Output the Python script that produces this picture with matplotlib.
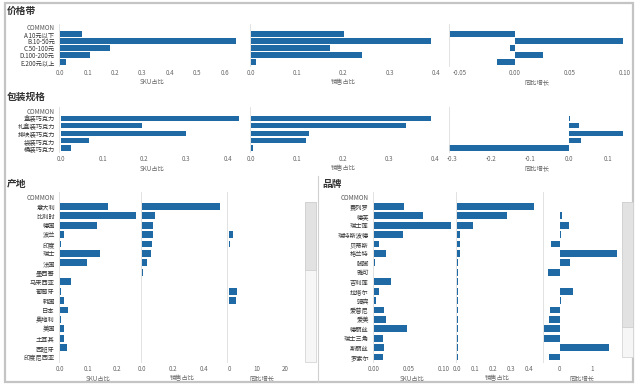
import matplotlib
matplotlib.use("Agg")
import matplotlib.pyplot as plt
from matplotlib.patches import Rectangle

plt.rcParams['font.family'] = ['Noto Sans CJK SC', 'DejaVu Sans']

# ---------------- data ----------------
price_cats = ['A.10元以下', 'B.10-50元', 'C.50-100元', 'D.100-200元', 'E.200元以上']
price_sku = [0.08, 0.64, 0.18, 0.11, 0.02]
price_sales = [0.20, 0.39, 0.17, 0.24, 0.01]
price_yoy = [-0.059, 0.098, -0.005, 0.025, -0.016]

pack_cats = ['盒装巧克力', '礼盒装巧克力', '排块装巧克力', '袋装巧克力', '桶装巧克力']
pack_sku = [0.426, 0.195, 0.30, 0.067, 0.024]
pack_sales = [0.39, 0.337, 0.126, 0.12, 0.004]
pack_yoy = [0.003, 0.025, 0.138, 0.03, -0.31]

origin_cats = ['意大利', '比利时', '德国', '波兰', '印度', '瑞士', '法国', '墨西哥', '马来西亚',
               '葡萄牙', '韩国', '日本', '奥地利', '美国', '土耳其', '西班牙', '印度尼西亚']
origin_sku = [0.17, 0.265, 0.13, 0.015, 0.005, 0.14, 0.095, 0.002, 0.04,
              0.005, 0.015, 0.028, 0.003, 0.015, 0.015, 0.025, 0.001]
origin_sales = [0.50, 0.085, 0.07, 0.07, 0.066, 0.058, 0.035, 0.01, 0.003,
                0.003, 0.002, 0.002, 0.001, 0.002, 0.002, 0.002, 0.001]
origin_yoy = [0.15, 0.1, -0.1, 1.5, 0.5, 0.1, 0.15, -0.1, 0.1,
              2.9, 2.5, 0.1, -0.15, 0.1, 0.1, -0.1, 0.1]

brand_cats = ['费列罗', '德芙', '瑞士莲', '瑞特斯波德', '贝蒂斯', '格兰特', '脚脚', '雅可', '吉利莲',
              '拉塔尔', '骑宾', '爱普尼', '爱美', '德丽丝', '瑞士三角', '斯丽丝', '罗素尔']
brand_sku = [0.043, 0.07, 0.111, 0.042, 0.008, 0.018, 0.002, 0.001, 0.025,
             0.008, 0.003, 0.015, 0.018, 0.047, 0.013, 0.015, 0.014]
brand_sales = [0.43, 0.28, 0.09, 0.015, 0.015, 0.015, 0.005, 0.005, 0.005,
               0.005, 0.004, 0.004, 0.004, 0.004, 0.003, 0.004, 0.003]
brand_yoy = [0.01, 0.05, 0.27, 0.02, -0.27, 1.76, 0.3, -0.36, 0.01,
             0.39, 0.04, -0.3, -0.35, -0.48, -0.5, 1.52, -0.35]

header_label = 'COMMON'
xlabels = ['SKU占比', '销售占比', '同比增长']

# ---------------- layout ----------------
W, H = 640, 389
fig = plt.figure(figsize=(W / 100, H / 100), dpi=100)
fig.patch.set_facecolor('white')

BAR = '#1f6aa5'
TXT = '#333333'
TICK = '#666666'
FS = 4.5


def px_axes(x0, x1, y0, y1):
    return fig.add_axes([x0 / W, 1 - y1 / H, (x1 - x0) / W, (y1 - y0) / H])


def panel(x0, x1, y0, y1, cats, vals, xlim, ticks, ticklabels, xlabel, show_y):
    ax = px_axes(x0, x1, y0, y1)
    n = len(cats)
    ypos = list(range(1, n + 1))
    ax.barh(ypos, vals, height=0.72, color=BAR, edgecolor='none')
    ax.set_ylim(n + 0.5, -0.5)
    ax.set_xlim(*xlim)
    ax.set_xticks(ticks)
    ax.set_xticklabels(ticklabels)
    ax.tick_params(axis='x', length=0, labelsize=FS, colors=TICK, pad=2.5)
    if show_y:
        ax.set_yticks([0] + ypos)
        ax.set_yticklabels([header_label] + cats)
        ax.tick_params(axis='y', length=0, labelsize=FS, colors=TXT, pad=3)
        ax.get_yticklabels()[0].set_color('#555555')
    else:
        ax.set_yticks([])
    ax.set_xlabel(xlabel, fontsize=FS, color=TICK, labelpad=1)
    for s in ['top', 'right', 'bottom']:
        ax.spines[s].set_visible(False)
    ax.spines['left'].set_color('#dddddd')
    ax.spines['left'].set_linewidth(0.6)
    ax.set_facecolor('none')
    return ax


# outer frame
fig.add_artist(Rectangle((5 / W, 1 - 382 / H), (633 - 5) / W, (382 - 3) / H,
                         transform=fig.transFigure, fill=False,
                         edgecolor='#c4c4c4', linewidth=1.6))

# titles
fig.text(7 / W, 1 - 11 / H, '价格带', fontsize=7, fontweight='bold', color=TXT, va='center')
fig.text(7 / W, 1 - 97 / H, '包装规格', fontsize=7, fontweight='bold', color=TXT, va='center')
fig.text(7 / W, 1 - 184 / H, '产地', fontsize=7, fontweight='bold', color=TXT, va='center')
fig.text(322 / W, 1 - 184 / H, '品牌', fontsize=7, fontweight='bold', color=TXT, va='center')

# ---- 价格带 ----
ty0, ty1 = 23.5, 65.5
panel(59, 245, ty0, ty1, price_cats, price_sku, (-0.004, 0.673),
      [0, 0.1, 0.2, 0.3, 0.4, 0.5, 0.6], ['0.0', '0.1', '0.2', '0.3', '0.4', '0.5', '0.6'],
      xlabels[0], True)
panel(250, 437, ty0, ty1, price_cats, price_sales, (-0.002, 0.402),
      [0, 0.1, 0.2, 0.3, 0.4], ['0.0', '0.1', '0.2', '0.3', '0.4'], xlabels[1], False)
panel(449, 625, ty0, ty1, price_cats, price_yoy, (-0.06, 0.10),
      [-0.05, 0, 0.05, 0.10], ['-0.05', '0.00', '0.05', '0.10'], xlabels[2], False)

# ---- 包装规格 ----
my0, my1 = 107.3, 151.7
panel(59, 245, my0, my1, pack_cats, pack_sku, (-0.004, 0.44),
      [0, 0.1, 0.2, 0.3, 0.4], ['0.0', '0.1', '0.2', '0.3', '0.4'], xlabels[0], True)
panel(250, 437, my0, my1, pack_cats, pack_sales, (-0.002, 0.404),
      [0, 0.1, 0.2, 0.3, 0.4], ['0.0', '0.1', '0.2', '0.3', '0.4'], xlabels[1], False)
panel(449, 625, my0, my1, pack_cats, pack_yoy, (-0.308, 0.144),
      [-0.3, -0.2, -0.1, 0, 0.1], ['-0.3', '-0.2', '-0.1', '0.0', '0.1'], xlabels[2], False)

# ---- 产地 ----
by0, by1 = 192.3, 361.7
panel(59, 137, by0, by1, origin_cats, origin_sku, (-0.003, 0.27),
      [0, 0.1, 0.2], ['0.0', '0.1', '0.2'], xlabels[0], True)
panel(141, 223, by0, by1, origin_cats, origin_sales, (-0.006, 0.52),
      [0, 0.2, 0.4], ['0.0', '0.2', '0.4'], xlabels[1], False)
panel(227, 297, by0, by1, origin_cats, origin_yoy, (-0.7, 24.3),
      [0, 10, 20], ['0', '10', '20'], xlabels[2], False)

# ---- 品牌 ----
panel(373, 452, by0, by1, brand_cats, brand_sku, (-0.001, 0.112),
      [0, 0.05, 0.10], ['0.00', '0.05', '0.10'], xlabels[0], True)
panel(456, 538, by0, by1, brand_cats, brand_sales, (-0.006, 0.45),
      [0, 0.1, 0.2, 0.3, 0.4], ['0.0', '0.1', '0.2', '0.3', '0.4'], xlabels[1], False)
panel(543, 620, by0, by1, brand_cats, brand_yoy, (-0.52, 1.85),
      [0, 1], ['0', '1'], xlabels[2], False)

# separator between the two bottom cards
fig.add_artist(plt.Line2D([318 / W, 318 / W], [1 - 382 / H, 1 - 176 / H],
                          transform=fig.transFigure, color='#d0d0d0', linewidth=0.8))


# scrollbars
def scrollbar(x0, x1, y0, y1, thumb_end):
    fig.add_artist(Rectangle((x0 / W, 1 - y1 / H), (x1 - x0) / W, (y1 - y0) / H,
                             transform=fig.transFigure, facecolor='#f6f6f6',
                             edgecolor='#d6d6d6', linewidth=0.6))
    fig.add_artist(Rectangle((x0 / W, 1 - thumb_end / H), (x1 - x0) / W, (thumb_end - y0) / H,
                             transform=fig.transFigure, facecolor='#e2e2e2',
                             edgecolor='#d0d0d0', linewidth=0.6))


scrollbar(305, 316, 202, 362, 270)
scrollbar(622, 633, 202, 357, 327)

fig.savefig('out.png', dpi=100, facecolor='white')
